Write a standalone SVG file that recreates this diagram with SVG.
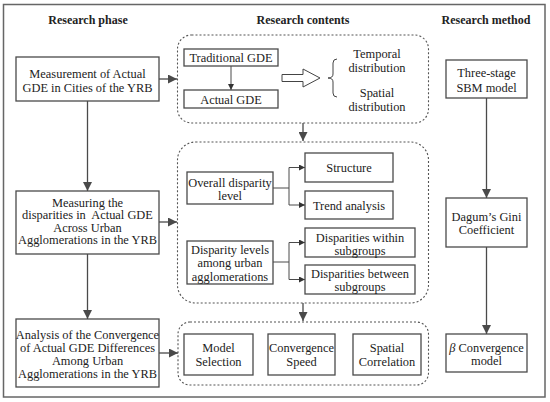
<svg xmlns="http://www.w3.org/2000/svg" width="550" height="402" viewBox="0 0 550 402">
<defs>
<style>
text{font-size:12.4px;fill:#222;text-anchor:middle}
.h{font-weight:bold;font-size:12px}
.box{fill:#fff;stroke:#4a4a4a;stroke-width:1.3}
.dash{fill:none;stroke:#555;stroke-width:1.1;stroke-dasharray:2,2}
.ln{fill:none;stroke:#4a4a4a;stroke-width:1.3}
.lns{fill:none;stroke:#4a4a4a;stroke-width:1}
</style>
<marker id="ah" markerUnits="userSpaceOnUse" markerWidth="10" markerHeight="9" refX="9" refY="4.5" orient="auto">
<path d="M0,0 L9,4.5 L0,9 z" fill="#4a4a4a"/>
</marker>
<marker id="as" markerUnits="userSpaceOnUse" markerWidth="7" markerHeight="6" refX="6" refY="3" orient="auto">
<path d="M0,0 L6,3 L0,6 z" fill="#333"/>
</marker>
</defs>
<g font-family="'Liberation Serif', Tinos, 'DejaVu Serif', serif">
<rect x="3.5" y="4.5" width="541.5" height="392.5" fill="#fff" stroke="#666" stroke-width="1.5"/>
<text class="h" x="88" y="24">Research phase</text>
<text class="h" x="303" y="24">Research contents</text>
<text class="h" x="486" y="24">Research method</text>

<g id="connectors">
<line class="ln" x1="87.5" y1="101" x2="87.5" y2="191" marker-end="url(#ah)"/>
<line class="ln" x1="87.5" y1="254" x2="87.5" y2="319" marker-end="url(#ah)"/>
<line class="ln" x1="486.5" y1="98" x2="486.5" y2="198" marker-end="url(#ah)"/>
<line class="ln" x1="486.5" y1="247" x2="486.5" y2="334" marker-end="url(#ah)"/>
<line class="ln" x1="159" y1="79" x2="177" y2="79" marker-end="url(#ah)"/>
<line class="ln" x1="159" y1="222" x2="177" y2="222" marker-end="url(#ah)"/>
<line class="ln" x1="159" y1="353" x2="178" y2="353" marker-end="url(#ah)"/>
<line class="ln" x1="303" y1="123" x2="303" y2="141" marker-end="url(#ah)"/>
<line class="ln" x1="303" y1="303" x2="303" y2="321" marker-end="url(#ah)"/>
<line class="lns" x1="231" y1="66" x2="231" y2="90" marker-end="url(#as)"/>
<polyline class="lns" points="273,188 289,188"/>
<polyline class="lns" points="305,167.5 289,167.5 289,205 305,205" marker-end="url(#as)"/>
<line class="lns" x1="289" y1="167.5" x2="305" y2="167.5" marker-end="url(#as)"/>
<polyline class="lns" points="273,262 289,262"/>
<polyline class="lns" points="305,242.5 289,242.5 289,279.5 305,279.5" marker-end="url(#as)"/>
<line class="lns" x1="289" y1="242.5" x2="305" y2="242.5" marker-end="url(#as)"/>
<polygon points="282,74.5 303,74.5 303,69 320,78 303,87 303,81.5 282,81.5" fill="#fff" stroke="#444" stroke-width="1"/>
<path d="M337,59 Q333,59 333,63 L333,74 Q333,78 328,78 Q333,78 333,82 L333,93 Q333,97 337,97" fill="none" stroke="#444" stroke-width="1"/>
</g>

<g id="group-contents-1"><rect class="dash" x="177.5" y="35" width="251" height="88" rx="14"/></g>
<g id="group-contents-2"><rect class="dash" x="177.5" y="142" width="251" height="161" rx="18"/></g>
<g id="group-contents-3"><rect class="dash" x="178" y="322" width="250.5" height="63" rx="12"/></g>

<g id="phase1"><rect class="box" x="16" y="57" width="143" height="44"/>
<text x="87.5" y="77.5">Measurement of Actual</text><text x="87.5" y="91.5">GDE in Cities of the YRB</text></g>
<g id="phase2"><rect class="box" x="16" y="191" width="143" height="63"/>
<text x="87.5" y="206.5">Measuring the</text><text x="87.5" y="219">disparities in&#160; Actual GDE</text><text x="87.5" y="231.5">Across Urban</text><text x="87.5" y="244">Agglomerations in the YRB</text></g>
<g id="phase3"><rect class="box" x="16" y="319" width="143" height="68"/>
<text x="87.5" y="338.5">Analysis of the Convergence</text><text x="87.5" y="351.5">of Actual GDE Differences</text><text x="87.5" y="364.5">Among Urban</text><text x="87.5" y="377.5">Agglomerations in the YRB</text></g>

<g id="traditional-gde"><rect class="box" x="184" y="49" width="94" height="17"/><text x="231" y="62">Traditional GDE</text></g>
<g id="actual-gde"><rect class="box" x="184" y="90" width="94" height="18"/><text x="231" y="103.5">Actual GDE</text></g>
<g id="temporal"><text x="377" y="57.5">Temporal</text><text x="377" y="71.5">distribution</text></g>
<g id="spatial"><text x="377" y="96.5">Spatial</text><text x="377" y="110.5">distribution</text></g>

<g id="overall"><rect class="box" x="187" y="172" width="86" height="32"/><text x="230" y="186.5">Overall disparity</text><text x="230" y="199.5">level</text></g>
<g id="structure"><rect class="box" x="305" y="153" width="88" height="29"/><text x="349" y="172">Structure</text></g>
<g id="trend"><rect class="box" x="305" y="191" width="88" height="28"/><text x="349" y="209.5">Trend analysis</text></g>
<g id="among"><rect class="box" x="187" y="241" width="86" height="43"/><text x="230" y="253.5">Disparity levels</text><text x="230" y="267">among urban</text><text x="230" y="281">agglomerations</text></g>
<g id="within"><rect class="box" x="305" y="228" width="110" height="29"/><text x="360" y="241.5">Disparities within</text><text x="360" y="254.5">subgroups</text></g>
<g id="between"><rect class="box" x="305" y="265" width="110" height="29"/><text x="360" y="277.5">Disparities between</text><text x="360" y="291">subgroups</text></g>

<g id="model-selection"><rect class="box" x="184" y="334" width="69" height="41"/><text x="218.5" y="351.5">Model</text><text x="218.5" y="365.5">Selection</text></g>
<g id="convergence-speed"><rect class="box" x="268" y="334" width="67" height="41"/><text x="301.5" y="351.5">Convergence</text><text x="301.5" y="365.5">Speed</text></g>
<g id="spatial-correlation"><rect class="box" x="353" y="334" width="68" height="41"/><text x="387" y="351.5">Spatial</text><text x="387" y="365.5">Correlation</text></g>

<g id="sbm"><rect class="box" x="446" y="60" width="81" height="38"/><text x="486.5" y="76.5">Three-stage</text><text x="486.5" y="91.5">SBM model</text></g>
<g id="dagum"><rect class="box" x="446" y="198" width="81" height="49"/><text x="486.5" y="221">Dagum’s Gini</text><text x="486.5" y="233.5">Coefficient</text></g>
<g id="beta"><rect class="box" x="446" y="334" width="81" height="38"/><text x="486.5" y="351.5"><tspan font-style="italic">β</tspan> Convergence</text><text x="486.5" y="364.5">model</text></g>
</g>
</svg>
